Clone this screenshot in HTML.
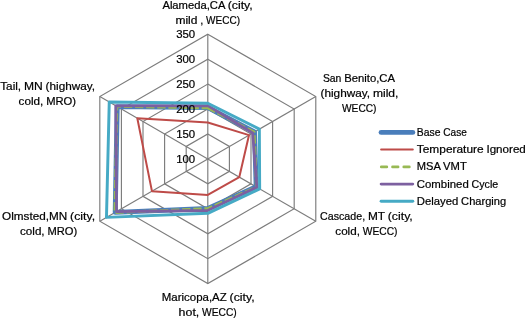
<!DOCTYPE html>
<html><head><meta charset="utf-8"><title>Radar chart</title>
<style>html,body{margin:0;padding:0;background:#fff}svg{display:block}text{font-family:"Liberation Sans",sans-serif;font-size:10.6px;fill:#000;stroke:#000;stroke-width:0.2px}</style></head><body>
<svg width="525" height="318" viewBox="0 0 525 318">
<rect width="525" height="318" fill="#fff"/>
<g fill="none" stroke="#7c7c7c" stroke-width="1.15">
<polygon points="207.80,133.96 229.40,146.43 229.40,171.37 207.80,183.84 186.20,171.37 186.20,146.43"/>
<polygon points="207.80,109.02 251.00,133.96 251.00,183.84 207.80,208.78 164.60,183.84 164.60,133.96"/>
<polygon points="207.80,84.08 272.60,121.49 272.60,196.31 207.80,233.72 143.00,196.31 143.00,121.49"/>
<polygon points="207.80,59.14 294.19,109.02 294.19,208.78 207.80,258.66 121.41,208.78 121.41,109.02"/>
<polygon points="207.80,34.20 315.79,96.55 315.79,221.25 207.80,283.60 99.81,221.25 99.81,96.55"/>
<line x1="207.80" y1="158.90" x2="207.80" y2="34.20"/>
<line x1="207.80" y1="158.90" x2="315.79" y2="96.55"/>
<line x1="207.80" y1="158.90" x2="315.79" y2="221.25"/>
<line x1="207.80" y1="158.90" x2="207.80" y2="283.60"/>
<line x1="207.80" y1="158.90" x2="99.81" y2="221.25"/>
<line x1="207.80" y1="158.90" x2="99.81" y2="96.55"/>
</g>
<polygon points="207.80,107.50 254.48,131.95 256.21,186.85 207.80,208.50 115.22,212.35 117.21,106.60" fill="none" stroke="#4A7EBB" stroke-width="4.94" stroke-linejoin="round"/>
<polygon points="207.80,122.45 249.02,135.10 239.32,177.10 207.80,194.90 151.94,191.15 137.31,118.20" fill="none" stroke="#BE4B48" stroke-width="2.0" stroke-linejoin="round"/>
<polygon points="207.80,107.90 254.22,132.10 256.38,186.95 207.80,208.60 114.88,212.55 116.87,106.40" fill="none" stroke="#98B954" stroke-width="2.78" stroke-linejoin="round" stroke-dasharray="8.33 2.78"/>
<polygon points="207.80,105.60 252.70,132.98 256.82,187.20 207.80,210.50 116.52,211.60 115.83,105.80" fill="none" stroke="#7D60A0" stroke-width="2.78" stroke-linejoin="round"/>
<polygon points="207.80,103.20 259.33,129.15 259.67,188.85 207.80,213.30 106.48,217.40 109.25,102.00" fill="none" stroke="#46AAC5" stroke-width="2.95" stroke-linejoin="round"/>
<text x="195.2" y="163.0" text-anchor="end" textLength="19" lengthAdjust="spacingAndGlyphs">100</text>
<text x="195.2" y="138.1" text-anchor="end" textLength="19" lengthAdjust="spacingAndGlyphs">150</text>
<text x="195.2" y="113.1" text-anchor="end" textLength="19" lengthAdjust="spacingAndGlyphs">200</text>
<text x="195.2" y="88.2" text-anchor="end" textLength="19" lengthAdjust="spacingAndGlyphs">250</text>
<text x="195.2" y="63.2" text-anchor="end" textLength="19" lengthAdjust="spacingAndGlyphs">300</text>
<text x="195.2" y="38.3" text-anchor="end" textLength="19" lengthAdjust="spacingAndGlyphs">350</text>
<text y="8.9"><tspan x="162.40" textLength="62.42" lengthAdjust="spacingAndGlyphs">Alameda,CA</tspan> <tspan x="227.67" textLength="25.13" lengthAdjust="spacingAndGlyphs">(city,</tspan></text>
<text y="23.9"><tspan x="175.40" textLength="22.02" lengthAdjust="spacingAndGlyphs">mild</tspan> <tspan x="200.21" textLength="3.08" lengthAdjust="spacingAndGlyphs">,</tspan> <tspan x="206.08" textLength="33.92" lengthAdjust="spacingAndGlyphs">WECC)</tspan></text>
<text y="82.1"><tspan x="322.90" textLength="18.48" lengthAdjust="spacingAndGlyphs">San</tspan> <tspan x="344.24" textLength="50.76" lengthAdjust="spacingAndGlyphs">Benito,CA</tspan></text>
<text y="97.4"><tspan x="320.50" textLength="49.56" lengthAdjust="spacingAndGlyphs">(highway,</tspan> <tspan x="372.90" textLength="25.50" lengthAdjust="spacingAndGlyphs">mild,</tspan></text>
<text y="112.4"><tspan x="342.00" textLength="34.50" lengthAdjust="spacingAndGlyphs">WECC)</tspan></text>
<text y="90.1"><tspan x="0.20" textLength="20.97" lengthAdjust="spacingAndGlyphs">Tail,</tspan> <tspan x="24.01" textLength="18.79" lengthAdjust="spacingAndGlyphs">MN</tspan> <tspan x="45.63" textLength="49.47" lengthAdjust="spacingAndGlyphs">(highway,</tspan></text>
<text y="105.0"><tspan x="18.60" textLength="24.69" lengthAdjust="spacingAndGlyphs">cold,</tspan> <tspan x="46.15" textLength="29.85" lengthAdjust="spacingAndGlyphs">MRO)</tspan></text>
<text y="219.8"><tspan x="2.10" textLength="65.15" lengthAdjust="spacingAndGlyphs">Olmsted,MN</tspan> <tspan x="70.08" textLength="25.02" lengthAdjust="spacingAndGlyphs">(city,</tspan></text>
<text y="235.0"><tspan x="20.00" textLength="24.60" lengthAdjust="spacingAndGlyphs">cold,</tspan> <tspan x="47.45" textLength="29.75" lengthAdjust="spacingAndGlyphs">MRO)</tspan></text>
<text y="219.8"><tspan x="320.10" textLength="45.03" lengthAdjust="spacingAndGlyphs">Cascade,</tspan> <tspan x="367.98" textLength="16.90" lengthAdjust="spacingAndGlyphs">MT</tspan> <tspan x="387.72" textLength="25.08" lengthAdjust="spacingAndGlyphs">(city,</tspan></text>
<text y="235.0"><tspan x="335.30" textLength="24.67" lengthAdjust="spacingAndGlyphs">cold,</tspan> <tspan x="362.82" textLength="34.68" lengthAdjust="spacingAndGlyphs">WECC)</tspan></text>
<text y="300.7"><tspan x="161.80" textLength="64.91" lengthAdjust="spacingAndGlyphs">Maricopa,AZ</tspan> <tspan x="229.55" textLength="25.05" lengthAdjust="spacingAndGlyphs">(city,</tspan></text>
<text y="315.8"><tspan x="178.60" textLength="20.67" lengthAdjust="spacingAndGlyphs">hot,</tspan> <tspan x="202.12" textLength="34.68" lengthAdjust="spacingAndGlyphs">WECC)</tspan></text>
<line x1="381.1" y1="132.4" x2="412.8" y2="132.4" stroke="#4A7EBB" stroke-width="4.94" stroke-linecap="round"/>
<text y="135.8"><tspan x="416.80" textLength="23.67" lengthAdjust="spacingAndGlyphs">Base</tspan> <tspan x="443.27" textLength="23.53" lengthAdjust="spacingAndGlyphs">Case</tspan></text>
<line x1="381.1" y1="149.5" x2="412.8" y2="149.5" stroke="#BE4B48" stroke-width="2.0" stroke-linecap="round"/>
<text y="153.1"><tspan x="416.80" textLength="66.81" lengthAdjust="spacingAndGlyphs">Temperature</tspan> <tspan x="486.44" textLength="39.36" lengthAdjust="spacingAndGlyphs">Ignored</tspan></text>
<line x1="381.3" y1="166.9" x2="410" y2="166.9" stroke="#98B954" stroke-width="2.78" stroke-linecap="round" stroke-dasharray="5.5 5.75"/>
<text y="170.3"><tspan x="416.80" textLength="23.49" lengthAdjust="spacingAndGlyphs">MSA</tspan> <tspan x="443.10" textLength="23.70" lengthAdjust="spacingAndGlyphs">VMT</tspan></text>
<line x1="381.1" y1="184.1" x2="412.8" y2="184.1" stroke="#7D60A0" stroke-width="2.78" stroke-linecap="round"/>
<text y="187.6"><tspan x="416.80" textLength="51.93" lengthAdjust="spacingAndGlyphs">Combined</tspan> <tspan x="471.55" textLength="26.65" lengthAdjust="spacingAndGlyphs">Cycle</tspan></text>
<line x1="381.1" y1="201.3" x2="412.8" y2="201.3" stroke="#46AAC5" stroke-width="2.95" stroke-linecap="round"/>
<text y="204.8"><tspan x="416.80" textLength="41.48" lengthAdjust="spacingAndGlyphs">Delayed</tspan> <tspan x="461.13" textLength="45.07" lengthAdjust="spacingAndGlyphs">Charging</tspan></text>
</svg></body></html>
